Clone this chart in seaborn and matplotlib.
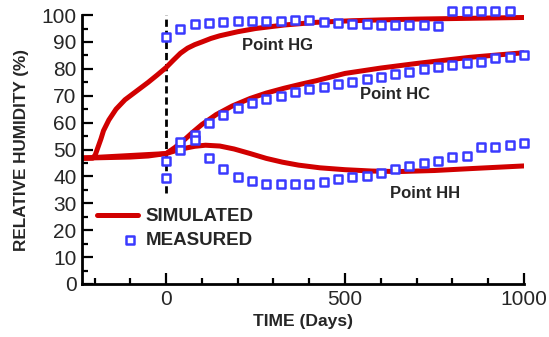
import matplotlib
matplotlib.use("Agg")
import matplotlib.pyplot as plt
from matplotlib.ticker import MultipleLocator
from matplotlib.legend_handler import HandlerPathCollection
from matplotlib.collections import PathCollection
import seaborn as sns
import pandas as pd

# simulated curves (day, RH %)
sim_hg_days = [-235, -205, -198, -190, -182, -175, -160, -140, -115, -80, -50, -25, 0,
               20, 40, 60, 80, 100, 125, 150, 200, 250, 330, 420, 520, 600, 700, 850, 1000]
sim_hg_rh = [46.8, 46.8, 48.0, 51.0, 54.0, 57.0, 61.0, 65.0, 68.5, 72.0, 75.0, 77.7, 80.5,
             83.2, 85.8, 87.7, 89.0, 90.0, 91.3, 92.3, 93.8, 95.0, 96.3, 97.3, 97.9, 98.2, 98.5, 98.8, 99.1]

sim_hc_days = [-235, -100, -50, 0, 25, 50, 75, 100, 140, 185, 235, 280, 330, 380, 420,
               500, 600, 700, 765, 850, 1000]
sim_hc_rh = [46.8, 47.2, 47.6, 48.5, 50.8, 53.5, 56.5, 59.3, 63.0, 66.2, 69.0, 71.0, 72.8, 74.4, 75.6,
             78.3, 80.3, 82.0, 83.0, 84.3, 86.0]

sim_hh_days = [-235, 0, 25, 50, 80, 110, 150, 190, 235, 280, 325, 370, 430, 500, 575,
               650, 750, 850, 1000]
sim_hh_rh = [46.8, 48.5, 49.5, 50.4, 51.2, 51.6, 51.3, 50.2, 48.5, 46.7, 45.3, 44.2, 43.2, 42.5, 42.0,
             41.8, 42.2, 42.9, 43.9]

# measured points
meas_days = [0, 40, 80, 120, 160, 200, 240, 280, 320, 360, 400, 440, 480,
             520, 560, 600, 640, 680, 720, 760, 800, 840, 880, 920, 960, 1000]
meas_hg = [91.9, 94.8, 96.5, 96.9, 97.5, 97.8, 97.8, 97.8, 97.8, 98.3, 98.1, 97.5, 97.0,
           96.5, 96.5, 96.4, 96.3, 96.3, 96.3, 95.9, 101.5, 101.5, 101.5, 101.5, 101.5]
meas_hc = [45.8, 52.9, 55.4, 59.7, 62.8, 65.3, 67.2, 68.7, 70.0, 71.3, 72.4, 73.4, 74.3,
           75.2, 76.1, 77.1, 78.1, 78.9, 79.8, 80.6, 81.4, 82.0, 82.6, 83.9, 84.5, 85.1]
meas_hh = [39.3, 49.8, 53.5, 47.0, 42.6, 39.9, 38.4, 37.2, 37.0, 37.0, 37.2, 38.0, 38.9,
           39.9, 40.1, 41.4, 42.6, 43.9, 44.9, 45.8, 47.1, 47.6, 50.8, 51.0, 51.7, 52.3]

sim = pd.concat([
    pd.DataFrame({"day": sim_hg_days, "rh": sim_hg_rh, "point": "HG"}),
    pd.DataFrame({"day": sim_hc_days, "rh": sim_hc_rh, "point": "HC"}),
    pd.DataFrame({"day": sim_hh_days, "rh": sim_hh_rh, "point": "HH"}),
])
meas = pd.concat([
    pd.DataFrame({"day": meas_days[:len(meas_hg)], "rh": meas_hg, "point": "HG"}),
    pd.DataFrame({"day": meas_days, "rh": meas_hc, "point": "HC"}),
    pd.DataFrame({"day": meas_days, "rh": meas_hh, "point": "HH"}),
])


class RightMarkerHandler(HandlerPathCollection):
    # put the single legend marker near the right end of the handle, like the original
    def get_xdata(self, legend, xdescent, ydescent, width, height, fontsize):
        return [-xdescent, -xdescent + width], [-xdescent + 0.8 * width]


sns.set_style("ticks")
plt.rcParams['font.family'] = ['Liberation Sans', 'DejaVu Sans']

RED = "#d10000"
BLUE = "#3a3aff"

fig = plt.figure(figsize=(5.49, 3.37), dpi=100)
ax = fig.add_axes([0.1494, 0.1573, 0.805, 0.798])

ax.vlines(0, 34, 100, colors="black", linestyles=(0, (2.6, 1.4)), linewidth=2, zorder=1)

sns.lineplot(data=sim, x="day", y="rh", units="point", estimator=None, sort=False,
             color=RED, linewidth=3.6, ax=ax, zorder=2)
sns.scatterplot(data=meas, x="day", y="rh", marker="s", s=36, facecolor="white",
                edgecolor=BLUE, linewidth=1.8, ax=ax, zorder=3, clip_on=False)

ax.set_xlim(-235, 1000)
ax.set_ylim(0, 100)
ax.xaxis.set_major_locator(MultipleLocator(500))
ax.xaxis.set_minor_locator(MultipleLocator(100))
ax.yaxis.set_major_locator(MultipleLocator(10))
ax.yaxis.set_minor_locator(MultipleLocator(5))
ax.tick_params(which="both", direction="in", width=1.6, labelsize=15, color="black", pad=4)
ax.tick_params(which="major", length=8)
ax.tick_params(which="minor", length=4)
for side in ["top", "right"]:
    ax.spines[side].set_visible(False)
for side in ["left", "bottom"]:
    ax.spines[side].set_linewidth(2)
    ax.spines[side].set_color("black")

ax.set_xlabel("TIME (Days)", fontsize=12.6, fontweight="bold", labelpad=4)
ax.set_ylabel("RELATIVE HUMIDITY (%)", fontsize=12.3, fontweight="bold", labelpad=9)

ax.text(310, 88.8, "Point HG", fontsize=12, fontweight="bold", ha="center", va="center")
ax.text(640, 70.6, "Point HC", fontsize=12, fontweight="bold", ha="center", va="center")
ax.text(723, 33.8, "Point HH", fontsize=12, fontweight="bold", ha="center", va="center")

sim_handle = ax.lines[0]
meas_handle = ax.collections[-1]
ax.legend([sim_handle, meas_handle], ["SIMULATED", "MEASURED"], loc="upper left",
          bbox_to_anchor=(-0.005, 0.345), frameon=False, handlelength=2.2,
          handletextpad=0.42, labelspacing=0.35, prop={"weight": "bold", "size": 13.5},
          handler_map={PathCollection: RightMarkerHandler()})

fig.savefig("out.png", dpi=100)
